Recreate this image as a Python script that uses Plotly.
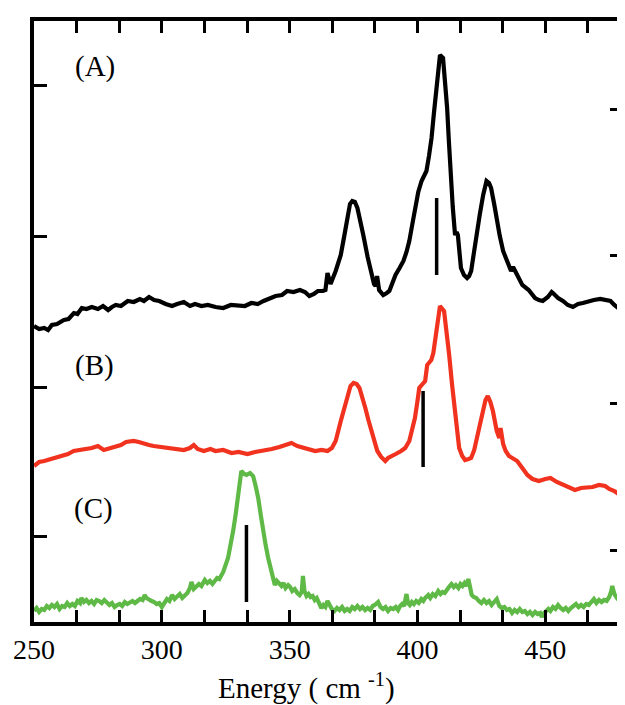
import plotly.graph_objects as go

# ---------------- data (intensity in arbitrary units, offsets included) ----------------
a_x = [250, 252, 254, 255.5, 257, 259, 261.7, 263.5, 265.6, 267, 268.7, 270.5, 272.6, 275, 277, 279, 280.5,
       282, 284, 286.7, 289, 291.4, 293, 295, 297, 299, 301.5, 304, 306, 308.6, 311, 313, 315.5, 318, 321,
       324, 327, 330, 332.5, 335, 337.5, 339.8, 342, 344.5, 347, 349, 351.5, 354, 356, 357.7, 359.5, 361,
       363, 364, 364.8, 366, 368, 370, 371.5, 372.6, 373.6, 374.5, 375.5, 376.5, 377.7, 378.8, 380.5, 382,
       383, 383.6, 384.2, 385, 386.6, 388, 389, 390.2, 391.4, 393, 394.5, 395.7, 396.8, 398, 399, 400.3,
       401.6, 402.5, 403.5, 404.5, 405.5, 406.4, 407.2, 408, 408.8, 410, 410.8, 411.6, 412.3, 413, 413.8,
       414.7, 415.3, 415.8, 416.4, 417, 418.2, 419.4, 420.2, 421, 422, 423, 424.4, 425.7, 427, 428, 428.8,
       430, 431, 432.2, 433.5, 435, 436.6, 437.4, 438, 439.5, 441, 443.5, 446, 447.5, 449, 451, 452.5, 453,
       455, 456.9, 458.8, 460.8, 462.8, 464.7, 467, 469, 471.5, 474, 475.5, 477, 478.5, 480]
a_y = [296, 293, 294, 292, 297, 298, 302, 303, 309, 308, 314, 313, 315, 313, 316, 312, 315,
       317, 316, 321, 320, 323, 321, 325, 322, 321, 318, 316, 318, 320, 316, 318, 316, 317, 315,
       314, 317, 317, 316, 319, 318, 321, 323, 326, 327, 331, 330, 332, 330, 326, 328, 331,
       331, 332, 349, 338, 351, 367, 388, 407, 418, 421, 420, 414, 402, 387, 365, 347,
       338, 336, 346, 332, 327, 329, 331, 339, 347, 354, 361, 370, 381, 398, 414, 430,
       441, 446, 451, 466, 484, 508, 531, 552, 567, 564, 540, 514, 480, 447, 415,
       387, 390, 387, 366, 354, 347, 344, 346, 351, 368, 387, 408, 427, 441, 439, 434,
       418, 401, 386, 371, 360, 351, 355, 352, 344, 337, 332, 324, 322, 321, 325, 330, 329,
       324, 321, 317, 315, 318, 319, 321, 322, 323, 322, 321, 317, 314, 311]

b_x = [250, 252, 254, 256.5, 258.6, 261, 263.3, 265.5, 268, 270, 272.6, 275, 277.3, 280, 282, 284, 286,
       289, 291, 293, 295, 296.8, 299.5, 302.3, 305, 308.6, 311, 312.5, 314, 316.4, 319, 321, 324, 327.3,
       330, 333.5, 336.5, 339.8, 343, 346, 348.5, 350.7, 353, 355.4, 358, 360, 362.5, 364.8, 366.5, 368,
       370, 371.3, 372.6, 373.8, 375, 376.2, 377.3, 378.5, 379.6, 380.8, 382, 383.2, 384.3, 385.8, 387.4,
       388.5, 389.7, 391.5, 393.6, 395.2, 396.8, 398, 399, 400, 400.7, 402, 403, 403.8, 405.4, 406.2, 407,
       408, 408.8, 410.4, 411.4, 412.4, 413.5, 414.7, 415.5, 416.3, 417.5, 418.6, 420, 421, 422.2, 423.3,
       424.5, 425.7, 426.6, 427.5, 428.5, 429.5, 430.3, 431, 432, 432.5, 433.5, 434.5, 435.8, 437.5, 439,
       441, 443, 445, 447.5, 450, 452, 454.5, 457, 459.5, 461.6, 464, 466, 468.5, 471, 473.4, 475, 477,
       478.6, 480]
b_y = [156, 160, 161, 163, 164, 167, 168, 171, 172, 172, 174, 176, 172, 174, 175, 177, 180,
       181, 180, 179, 177, 176, 175, 174, 173, 172, 174, 177, 173, 171, 173, 171, 172, 169,
       170, 168, 170, 171, 173, 175, 177, 179, 176, 174, 172, 171, 172, 171, 174, 181,
       201, 214, 227, 236, 239, 238, 234, 225, 214, 202, 191, 180, 171, 165, 161,
       164, 166, 168, 171, 174, 181, 192, 204, 221, 234, 238, 241, 257, 262, 269, 284,
       304, 316, 311, 292, 267, 238, 207, 189, 174, 166, 162, 163, 164, 172, 184,
       200, 214, 222, 226, 220, 211, 201, 191, 184, 194, 178, 171, 166, 163, 161,
       154, 147, 143, 141, 143, 144, 140, 137, 134, 132, 134, 134, 135, 137, 136, 133, 131,
       128, 126]

c_x = [250, 251, 252, 253, 254, 255, 256, 257, 258, 259,
       260, 261, 262, 263, 264, 265, 266, 267, 268, 268.5,
       269.5, 270.5, 271.5, 272.5, 273.5, 274.5, 275.5, 276.5, 277.5, 278.5,
       279.5, 280.5, 281.5, 282.5, 283.5, 284.5, 285.5, 286.5, 287.5, 288.5,
       289.5, 290.5, 291.5, 292.5, 293.3, 294, 295, 296, 297, 298,
       299, 300, 301, 302, 303, 304, 305, 306, 307, 308,
       309, 310, 311, 311.6, 312.5, 313.5, 314.5, 315.5, 316.8, 317.8,
       318.8, 319.8, 320.7, 321.6, 322.5, 323.3, 324, 325.9, 327, 327.9,
       328.9, 329.8, 330.5, 331.1, 332.2, 333.1, 334.5, 335.7, 336.7, 337.7,
       338.7, 339.6, 340.6, 341.6, 342.9, 344.2, 345, 345.8, 346.8, 347.6,
       348.4, 349.4, 350.2, 351, 352, 353, 353.9, 354.7, 355.2, 355.8,
       356.6, 357.4, 358.2, 359, 359.8, 360.6, 361.4, 362.4, 363.2, 364,
       364.8, 365.6, 366.5, 367.5, 368.5, 369.5, 370.5, 371.5, 372.5, 373.5,
       374.5, 375.5, 376.5, 377.5, 378.5, 379.5, 380.5, 381.5, 382.5, 383.3,
       384.6, 385.5, 386.5, 387.5, 388.5, 389.5, 390.5, 391.5, 392.4, 393.2,
       394, 394.8, 395.7, 396.3, 397, 397.8, 398.6, 399.5, 400.5, 401.5,
       402.3, 403, 404.2, 405, 406, 407, 408.1, 409, 409.8, 410.7,
       411.5, 412.3, 413.3, 414.2, 415, 416, 416.8, 417.6, 418.4, 419.2,
       419.9, 420.5, 421.2, 422, 423, 424, 425, 426, 427, 428,
       429, 430, 431, 432, 433, 434, 435, 436, 437, 438,
       439, 440, 441, 442, 443, 444, 445, 446, 447, 448,
       448.6, 449.5, 450.5, 451.2, 452, 453, 454, 455, 456, 457,
       458, 459, 460, 461, 462, 463, 464, 465, 466, 467,
       468, 469, 470, 471, 472, 473, 474, 475, 475.7, 476.2,
       477, 478, 479, 480]
c_y = [11, 14, 10, 13, 12, 16, 14, 17, 15, 18,
       13, 16, 15, 19, 16, 18, 16, 21, 19, 24,
       20, 22, 19, 21, 18, 22, 21, 19, 22, 20,
       17, 19, 15, 17, 18, 16, 20, 18, 19, 21,
       19, 21, 23, 22, 27, 24, 22, 21, 20, 18,
       19, 15, 19, 23, 21, 27, 23, 25, 28, 24,
       26, 29, 34, 40, 33, 35, 38, 36, 42, 39,
       41, 38, 42, 44, 43, 47, 50, 64, 77, 91,
       108, 124, 139, 151, 148, 147, 149, 146, 136, 124,
       107, 91, 77, 64, 49, 37, 41, 38, 36, 39,
       34, 37, 35, 31, 33, 29, 27, 30, 46, 31,
       26, 28, 25, 26, 22, 24, 19, 14, 17, 15,
       21, 16, 13, 11, 14, 12, 15, 11, 13, 11,
       15, 13, 16, 13, 15, 12, 14, 12, 16, 17,
       20, 15, 13, 15, 11, 14, 13, 15, 12, 16,
       18, 16, 28, 19, 17, 20, 18, 21, 19, 23,
       21, 24, 27, 24, 28, 26, 31, 28, 30, 29,
       33, 35, 38, 35, 37, 34, 38, 36, 39, 36,
       43, 33, 27, 25, 24, 21, 19, 22, 19, 21,
       17, 20, 23, 16, 14, 15, 12, 13, 9, 12,
       10, 13, 10, 11, 8, 10, 7, 10, 8, 9,
       5, 9, 11, 13, 11, 15, 13, 17, 14, 12,
       14, 11, 14, 16, 18, 15, 17, 15, 18, 17,
       20, 23, 19, 22, 20, 22, 21, 25, 30, 36,
       28, 24, 26, 22]

# vertical marker bars: position and span
bar_x = [407.5, 402.2, 333.1]
bar_lo = [347, 155, 20]
bar_hi = [424, 231, 97]

labels = ["(A)", "(B)", "(C)"]
label_x = [273.9, 273.5, 273.1]
label_y = [556, 257, 114]

x_ticks = [250, 300, 350, 400, 450]
left_ticks = [86, 235, 386, 537]
right_ticks = [72, 219, 367, 513]

colors = ["#000000", "#f0321e", "#5fb946"]

# ---------------- figure ----------------
fig = go.Figure()
for xs, ys, col in [(a_x, a_y, colors[0]), (b_x, b_y, colors[1]), (c_x, c_y, colors[2])]:
    fig.add_trace(go.Scatter(x=xs, y=ys, mode="lines", line=dict(color=col, width=4.2),
                             showlegend=False, hoverinfo="skip"))

for bx, lo, hi in zip(bar_x, bar_lo, bar_hi):
    fig.add_trace(go.Scatter(x=[bx, bx], y=[lo, hi], mode="lines",
                             line=dict(color="black", width=3.5), showlegend=False, hoverinfo="skip"))

# dummy trace for right axis
fig.add_trace(go.Scatter(x=[None], y=[None], yaxis="y2", showlegend=False, hoverinfo="skip"))

for t, lx, ly in zip(labels, label_x, label_y):
    fig.add_annotation(x=lx, y=ly, text=t, showarrow=False, xanchor="center", yanchor="middle",
                       font=dict(family="Liberation Serif", size=29, color="black"))

fig.add_annotation(x=0.464, y=-0.107, xref="paper", yref="paper", text="Energy ( cm <sup>-1</sup>)",
                   showarrow=False, xanchor="center", yanchor="middle",
                   font=dict(family="Liberation Serif", size=29, color="black"))

fig.update_layout(
    width=625, height=705,
    margin=dict(l=26, r=11, t=13, b=91, autoexpand=False),
    paper_bgcolor="white", plot_bgcolor="white",
    xaxis=dict(range=[250, 480], tickvals=x_ticks, ticks="inside", ticklen=12, tickwidth=3,
               tickcolor="black", showline=True, linewidth=3.5, linecolor="black", mirror="allticks",
               showgrid=False, zeroline=False, automargin=False,
               tickfont=dict(family="Liberation Serif", size=28, color="black"),
               minor=dict(tick0=250, dtick=50 / 3, ticks="inside", ticklen=6, tickwidth=2.5,
                          tickcolor="black", showgrid=False)),
    yaxis=dict(range=[0, 601], tickvals=left_ticks, ticks="inside", ticklen=13, tickwidth=3,
               tickcolor="black", showticklabels=False, showline=True, linewidth=3.5, linecolor="black",
               mirror=True, showgrid=False, zeroline=False, automargin=False),
    yaxis2=dict(range=[0, 601], tickvals=right_ticks, ticks="inside", ticklen=12, tickwidth=3,
                tickcolor="black", showticklabels=False, overlaying="y", side="right", anchor="x",
                showline=False, showgrid=False, zeroline=False, automargin=False),
)

fig.write_html("out.html")
